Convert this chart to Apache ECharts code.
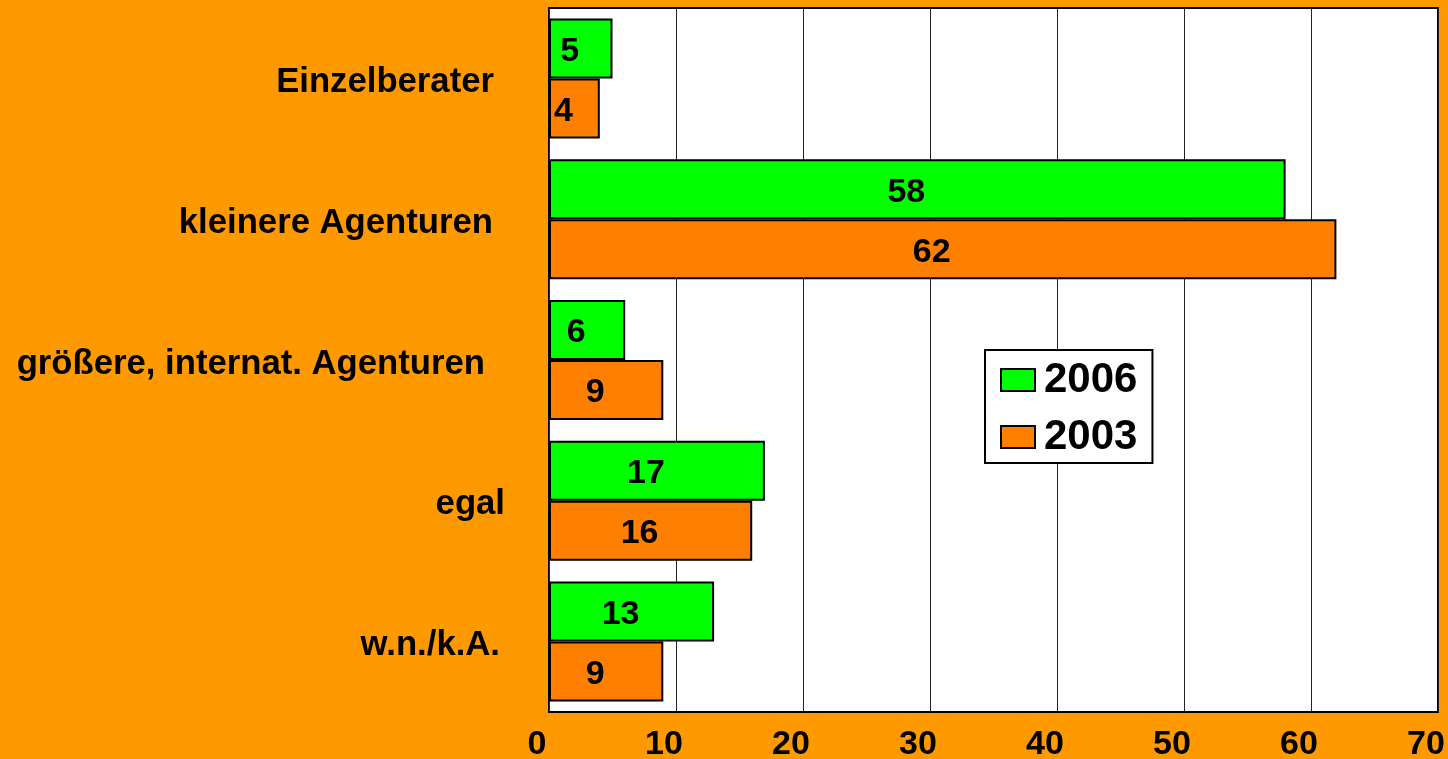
<!DOCTYPE html>
<html>
<head>
<meta charset="utf-8">
<script src="https://cdn.jsdelivr.net/npm/echarts@6/dist/echarts.min.js"></script>
<style>
html,body{margin:0;padding:0;background:#FF9900;}
#chart{width:1448px;height:759px;}
</style>
</head>
<body>
<div id="chart"></div>
<script>
const categories = ['Einzelberater', 'kleinere Agenturen', 'größere, internat. Agenturen', 'egal', 'w.n./k.A.'];
const values2006 = [5, 58, 6, 17, 13];
const values2003 = [4, 62, 9, 16, 9];
const xTicks = [0, 10, 20, 30, 40, 50, 60, 70];

// per-label right padding (style only)
const labelPad = [11, 12, 20, 0, 5];

const FONT = '"Liberation Sans", Arial, sans-serif';
const chart = echarts.init(document.getElementById('chart'));

const rich = {};
labelPad.forEach((p, i) => {
  rich['c' + i] = { fontSize: 34.7, fontWeight: 'bold', color: '#000', fontFamily: FONT, padding: [8, p, 0, 0] };
});

const labelCfg = {
  show: true,
  position: 'inside',
  offset: [-11, 3],
  color: '#000',
  fontSize: 34,
  fontWeight: 'bold',
  fontFamily: FONT
};

chart.setOption({
  backgroundColor: '#FF9900',
  animation: false,
  textStyle: { fontFamily: FONT },
  grid: {
    left: 549, right: 10, top: 8, bottom: 47,
    outerBoundsMode: 'none',
    containLabel: false,
    show: true, backgroundColor: '#fff', borderColor: '#000', borderWidth: 2
  },
  legend: {
    orient: 'vertical',
    left: 985, top: 350,
    data: ['2006', '2003'],
    icon: 'rect',
    backgroundColor: '#fff',
    borderColor: '#000',
    borderWidth: 2,
    padding: [9, 15, 5, 15],
    itemGap: 15,
    itemWidth: 34,
    itemHeight: 22,
    textStyle: { fontSize: 42, fontWeight: 'bold', color: '#000', fontFamily: FONT, padding: [8, 0, 0, 4] }
  },
  xAxis: {
    type: 'value',
    min: xTicks[0], max: xTicks[xTicks.length - 1], interval: 10,
    axisLine: { show: false },
    axisTick: { show: false },
    splitLine: { show: true, lineStyle: { color: '#222', width: 1 } },
    axisLabel: {
      color: '#000', fontSize: 34, fontWeight: 'bold', fontFamily: FONT,
      margin: 16, padding: [0, 24, 0, 0]
    }
  },
  yAxis: {
    type: 'category',
    inverse: true,
    data: categories,
    axisLine: { show: false },
    axisTick: { show: false },
    axisLabel: {
      margin: 44,
      formatter: (v) => `{c${categories.indexOf(v)}|${v}}`,
      rich: rich
    }
  },
  series: [
    {
      name: '2006', type: 'bar', data: values2006,
      barGap: '0%', barCategoryGap: '14.8%',
      itemStyle: { color: '#00FF00', borderColor: '#000', borderWidth: 2 },
      label: labelCfg
    },
    {
      name: '2003', type: 'bar', data: values2003,
      barGap: '0%', barCategoryGap: '14.8%',
      itemStyle: { color: '#FF8000', borderColor: '#000', borderWidth: 2 },
      label: labelCfg
    }
  ]
});
</script>
</body>
</html>
